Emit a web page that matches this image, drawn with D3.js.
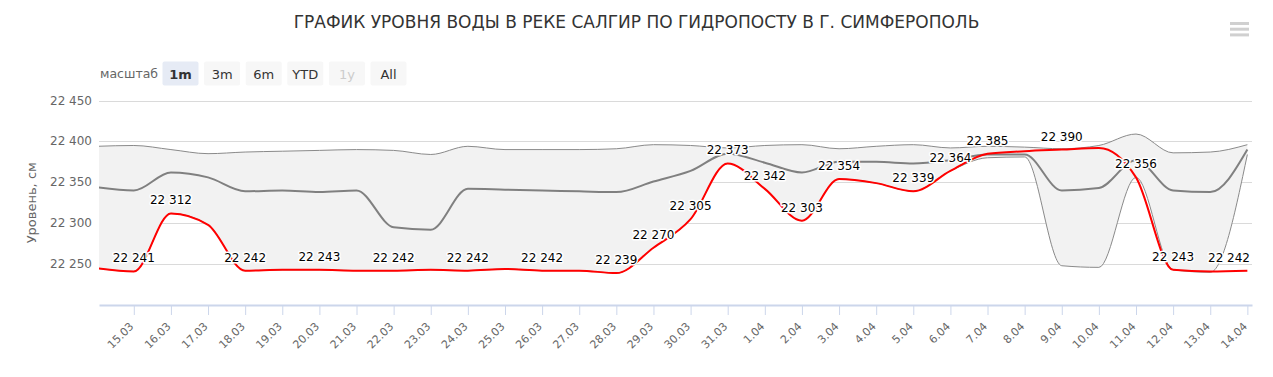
<!DOCTYPE html>
<html>
<head>
<meta charset="utf-8">
<script src="https://cdn.jsdelivr.net/npm/d3@7/dist/d3.min.js"></script>
<style>
  body { margin: 0; background: #fff; }
  svg { font-family: 'DejaVu Sans', sans-serif; display: block; }
</style>
</head>
<body>
<div id="chart"></div>
<script>
// Days shown on the chart (dd.mm)
const days = [
  '14.03', '15.03', '16.03', '17.03', '18.03', '19.03', '20.03', '21.03',
  '22.03', '23.03', '24.03', '25.03', '26.03', '27.03', '28.03', '29.03',
  '30.03', '31.03', '01.04', '02.04', '03.04', '04.04', '05.04', '06.04',
  '07.04', '08.04', '09.04', '10.04', '11.04', '12.04', '13.04', '14.04',
];

// Current water level (red line)
const level = [
  22245, 22241, 22312, 22298, 22242, 22243, 22243, 22242,
  22242, 22243, 22242, 22244, 22242, 22242, 22239, 22270,
  22305, 22373, 22342, 22303, 22354, 22349, 22339, 22364,
  22385, 22388, 22390, 22392, 22356, 22243, 22241, 22242,
];

// Average level over the years (thick gray line)
const average = [
  22344, 22340, 22362, 22356, 22339, 22340, 22338, 22340,
  22295, 22292, 22342, 22341, 22340, 22339, 22338, 22351,
  22364, 22385, 22374, 22362, 22375, 22375, 22373, 22377,
  22384, 22384, 22340, 22343, 22377, 22340, 22338, 22390,
];

// Min / max range (gray band)
const rangeHigh = [
  22394, 22395, 22390, 22385, 22387, 22388, 22389, 22390,
  22389, 22384, 22394, 22390, 22390, 22390, 22391, 22396,
  22395, 22392, 22395, 22396, 22391, 22394, 22396, 22392,
  22394, 22393, 22391, 22395, 22409, 22386, 22387, 22396,
];
const rangeLow = [
  22245, 22241, 22312, 22298, 22242, 22243, 22243, 22242,
  22242, 22243, 22242, 22244, 22242, 22242, 22239, 22270,
  22305, 22373, 22342, 22303, 22354, 22349, 22339, 22364,
  22380, 22381, 22248, 22246, 22356, 22243, 22240, 22384,
];

const yTicks = [22200, 22250, 22300, 22350, 22400, 22450];
const zoomButtons = ['1m', '3m', '6m', 'YTD', '1y', 'All'];

const width = 1273;
const height = 377;
const plot = { left: 99, right: 1252, top: 100.5, bottom: 305 };

const parseDay = d3.utcParse('%d.%m.%Y');
const dates = days.map((d) => parseDay(`${d}.2024`));
const rows = dates.map((date, i) => ({
  date,
  level: level[i],
  average: average[i],
  high: rangeHigh[i],
  low: rangeLow[i],
}));

const numFormat = d3.formatLocale({ decimal: ',', thousands: ' ', grouping: [3] }).format(',d');

const svg = d3.select('#chart')
  .append('svg')
  .attr('width', width)
  .attr('height', height);

// Scales (1 month window, a little past the first and last points)
const hour = 3600 * 1000;
const xscale = d3.scaleUtc()
  .domain([new Date(+dates[0] + 1.5 * hour), new Date(+dates[dates.length - 1] + 3 * hour)])
  .range([plot.left, plot.right]);

const yscale = d3.scaleLinear()
  .domain([22200, 22450])
  .range([plot.bottom, plot.top]);

// Title
svg.append('text')
  .attr('x', width / 2)
  .attr('y', 28)
  .attr('text-anchor', 'middle')
  .style('font-size', '17px')
  .style('fill', '#333333')
  .text('ГРАФИК УРОВНЯ ВОДЫ В РЕКЕ САЛГИР ПО ГИДРОПОСТУ В Г. СИМФЕРОПОЛЬ');

// Export menu icon
svg.append('g')
  .selectAll('line')
  .data([0, 1, 2])
  .enter()
  .append('line')
  .attr('x1', 1230)
  .attr('x2', 1249)
  .attr('y1', (d) => 23.5 + d * 5.7)
  .attr('y2', (d) => 23.5 + d * 5.7)
  .attr('stroke', '#d0d0d0')
  .attr('stroke-width', 3);

// Range selector
const selector = svg.append('g');
selector.append('text')
  .attr('x', 100)
  .attr('y', 78)
  .style('font-size', '12.5px')
  .style('fill', '#666666')
  .text('масштаб');

const buttons = selector.selectAll('g.btn')
  .data(zoomButtons)
  .enter()
  .append('g')
  .attr('class', 'btn')
  .attr('transform', (d, i) => `translate(${162.5 + i * 41.6}, 61.5)`);

buttons.append('rect')
  .attr('width', 36)
  .attr('height', 24)
  .attr('rx', 2)
  .attr('fill', (d, i) => (i === 0 ? '#e6ebf5' : '#f7f7f7'));

buttons.append('text')
  .attr('x', 18)
  .attr('y', 17)
  .attr('text-anchor', 'middle')
  .style('font-size', '13px')
  .style('font-weight', (d, i) => (i === 0 ? 'bold' : 'normal'))
  .style('fill', (d, i) => (i === 4 ? '#cccccc' : '#333333'))
  .text((d) => d);

// Grid lines and y axis labels
svg.append('g')
  .selectAll('line')
  .data(yTicks.slice(1))
  .enter()
  .append('line')
  .attr('x1', plot.left)
  .attr('x2', plot.right)
  .attr('y1', (d) => Math.round(yscale(d)) + 0.5)
  .attr('y2', (d) => Math.round(yscale(d)) + 0.5)
  .attr('stroke', '#dadada')
  .attr('stroke-width', 1.2);

svg.append('g')
  .selectAll('text')
  .data(yTicks.slice(1))
  .enter()
  .append('text')
  .attr('x', 92)
  .attr('y', (d) => yscale(d) + 4)
  .attr('text-anchor', 'end')
  .style('font-size', '12px')
  .style('fill', '#666666')
  .text((d) => numFormat(d));

svg.append('text')
  .attr('transform', `translate(36, ${(plot.top + plot.bottom) / 2}) rotate(-90)`)
  .attr('text-anchor', 'middle')
  .style('font-size', '13px')
  .style('fill', '#666666')
  .text('Уровень, см');

// X axis
const xAxis = d3.axisBottom(xscale)
  .ticks(d3.utcDay.every(1))
  .tickFormat(d3.utcFormat('%-d.%m'))
  .tickSize(10)
  .tickSizeOuter(0);

const xAxisG = svg.append('g')
  .attr('transform', `translate(0, ${plot.bottom})`)
  .call(xAxis);

xAxisG.select('.domain').attr('stroke', '#ccd6eb').attr('stroke-width', 2);
xAxisG.selectAll('.tick line').attr('stroke', '#ccd6eb');
xAxisG.selectAll('.tick text')
  .attr('x', null)
  .attr('y', null)
  .attr('dy', null)
  .attr('text-anchor', 'end')
  .attr('transform', 'translate(0, 22) rotate(-45)')
  .style('font-size', '11px')
  .style('font-family', "'DejaVu Sans', sans-serif")
  .style('fill', '#666666');

// Clip everything drawn in the plot area
svg.append('clipPath')
  .attr('id', 'plot-clip')
  .append('rect')
  .attr('x', plot.left)
  .attr('y', 0)
  .attr('width', plot.right - plot.left)
  .attr('height', plot.bottom);

const series = svg.append('g').attr('clip-path', 'url(#plot-clip)');
const curve = d3.curveMonotoneX;

// Range band
series.append('path')
  .datum(rows)
  .attr('fill', '#f2f2f2')
  .attr('d', d3.area()
    .curve(curve)
    .x((d) => xscale(d.date))
    .y0((d) => yscale(d.low))
    .y1((d) => yscale(d.high)));

['high', 'low'].forEach((key) => {
  series.append('path')
    .datum(rows)
    .attr('fill', 'none')
    .attr('stroke', '#8a8a8a')
    .attr('stroke-width', 1)
    .attr('d', d3.line()
      .curve(curve)
      .x((d) => xscale(d.date))
      .y((d) => yscale(d[key])));
});

// Average line
series.append('path')
  .datum(rows)
  .attr('fill', 'none')
  .attr('stroke', '#808080')
  .attr('stroke-width', 2)
  .attr('d', d3.line()
    .curve(curve)
    .x((d) => xscale(d.date))
    .y((d) => yscale(d.average)));

// Water level line
series.append('path')
  .datum(rows)
  .attr('fill', 'none')
  .attr('stroke', '#ff0000')
  .attr('stroke-width', 2)
  .attr('d', d3.line()
    .curve(curve)
    .x((d) => xscale(d.date))
    .y((d) => yscale(d.level)));

// Data labels for the water level, hiding the ones that overlap
const labelGroup = svg.append('g');
const kept = [];
rows.forEach((d) => {
  const px = xscale(d.date);
  if (px < plot.left || px > plot.right) return;
  const label = labelGroup.append('text')
    .attr('x', px)
    .attr('y', yscale(d.level) - 9)
    .attr('text-anchor', 'middle')
    .style('font-size', '12px')
    .style('fill', '#000000')
    .style('stroke', '#ffffff')
    .style('stroke-width', 3)
    .style('stroke-linejoin', 'round')
    .style('paint-order', 'stroke')
    .text(numFormat(d.level));

  let box = label.node().getBBox();
  // Keep the label inside the plot area
  if (box.x + box.width > plot.right - 2) {
    label.attr('x', px - (box.x + box.width - (plot.right - 2)));
    box = label.node().getBBox();
  }
  const rect = { x1: box.x, x2: box.x + box.width, y1: box.y + 1, y2: box.y + box.height - 1 };
  const overlaps = kept.some((k) => rect.x1 < k.x2 && rect.x2 > k.x1 && rect.y1 < k.y2 && rect.y2 > k.y1);
  if (overlaps) {
    label.remove();
  } else {
    kept.push(rect);
  }
});
</script>
</body>
</html>
